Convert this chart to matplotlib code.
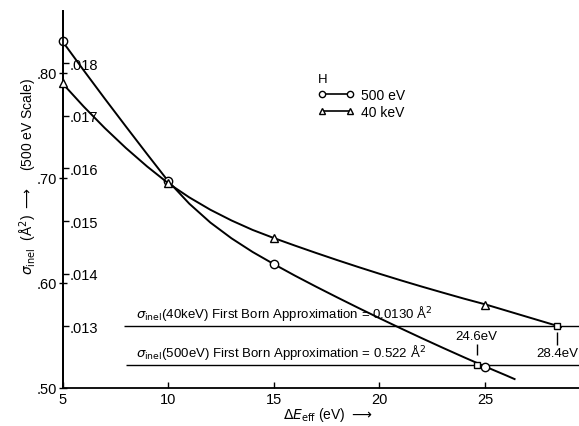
import matplotlib
matplotlib.use('Agg')
import matplotlib.pyplot as plt
from matplotlib.lines import Line2D

plt.rcParams['font.family'] = ['Liberation Sans', 'DejaVu Sans']
plt.rcParams['font.size'] = 10

# 500 eV curve (left scale, A^2)
e500_pts = [5, 10, 15, 25]
s500_pts = [0.830, 0.697, 0.618, 0.520]
e500_line = [5, 6, 7, 8, 9, 10, 11, 12, 13, 14, 15, 16, 17, 18, 19, 20,
             21, 22, 23, 24, 25, 26, 26.4]
s500_line = [0.830, 0.8025, 0.7755, 0.749, 0.7228, 0.697, 0.6755, 0.6575,
             0.6425, 0.6295, 0.618, 0.607, 0.5965, 0.5863, 0.5763, 0.5665,
             0.5569, 0.5475, 0.5383, 0.5293, 0.5205, 0.512, 0.5085]

# 40 keV curve (inner scale, A^2)
e40_pts = [5, 10, 15, 25]
s40_pts = [0.01762, 0.01572, 0.01468, 0.01341]
e40_line = [5, 6, 7, 8, 9, 10, 11, 12, 13, 14, 15, 16, 17, 18, 19, 20, 21,
            22, 23, 24, 25, 26, 27, 28, 28.4, 28.6]
s40_line = [0.01762, 0.01718, 0.01677, 0.01639, 0.01604, 0.01572, 0.01545,
            0.015214, 0.01501, 0.01483, 0.014676, 0.014532, 0.014392,
            0.014256, 0.014124, 0.013996, 0.013872, 0.013752, 0.013636,
            0.013522, 0.013414, 0.013294, 0.013174, 0.013054, 0.013006,
            0.012982]

born500 = 0.522
born40 = 0.0130
cross500 = 24.6
cross40 = 28.4

left_ticks = [0.50, 0.60, 0.70, 0.80]
left_labels = ['.50', '.60', '.70', '.80']
inner_ticks = [0.013, 0.014, 0.015, 0.016, 0.017, 0.018]
inner_labels = ['.013', '.014', '.015', '.016', '.017', '.018']
x_ticks = [5, 10, 15, 20, 25]

fig = plt.figure(figsize=(5.79, 4.27), dpi=100)
ax = fig.add_axes([0.108, 0.089, 0.892, 0.883])
ax.set_xlim(5, 29.45)
ax.set_ylim(0.50, 0.859)

ax2 = ax.twinx()
# inner scale: .013 sits at .559 on the outer scale, 0.001 -> 0.05
ax2.set_ylim(0.013 + (0.50 - 0.559) / 50, 0.013 + (0.859 - 0.559) / 50)

for s in ['top', 'right']:
    ax.spines[s].set_visible(False)
for s in ['top', 'left', 'bottom']:
    ax2.spines[s].set_visible(False)
ax2.spines['right'].set_position(('axes', 0.0))
ax.spines['left'].set_linewidth(1.3)
ax.spines['bottom'].set_linewidth(1.3)
ax2.spines['right'].set_linewidth(1.3)

ax.set_xticks(x_ticks)
ax.set_yticks(left_ticks, labels=left_labels)
ax.tick_params(axis='x', direction='in', length=4, width=1, pad=3, labelsize=10.5)
ax.tick_params(axis='y', direction='inout', length=6, width=1, pad=1, labelsize=10.5)
ax2.set_yticks(inner_ticks, labels=inner_labels)
ax2.tick_params(axis='y', direction='out', length=4, width=1, pad=1, labelsize=10.5)

# curves
ax.plot(e500_line, s500_line, color='black', lw=1.4, zorder=3)
ax.plot(e500_pts, s500_pts, ls='none', marker='o', ms=6, mfc='white',
        mec='black', mew=1, zorder=4, clip_on=False)
ax2.plot(e40_line, s40_line, color='black', lw=1.4, zorder=3)
ax2.plot(e40_pts, s40_pts, ls='none', marker='^', ms=6, mfc='white',
         mec='black', mew=1, zorder=4, clip_on=False)

# first Born approximation lines
ax.hlines(born500, 8.0, 29.45, color='black', lw=1.0)
ax2.hlines(born40, 7.9, 29.45, color='black', lw=1.0)
ax.plot([cross500], [born500], ls='none', marker='s', ms=5, mfc='white',
        mec='black', mew=1, zorder=5)
ax2.plot([cross40], [born40], ls='none', marker='s', ms=5, mfc='white',
         mec='black', mew=1, zorder=5)

ax2.annotate(r'$\sigma_{\rm inel}$(40keV) First Born Approximation = 0.0130 Å$^2$',
             xy=(8.5, born40), xytext=(0, 3), textcoords='offset points',
             ha='left', va='bottom', fontsize=9.5)
ax.annotate(r'$\sigma_{\rm inel}$(500eV) First Born Approximation = 0.522 Å$^2$',
            xy=(8.5, born500), xytext=(0, 3), textcoords='offset points',
            ha='left', va='bottom', fontsize=9.5)

# marks for the crossing energies
ax.vlines(cross500, born500 + 0.009, born500 + 0.020, color='black', lw=1)
ax.text(cross500, born500 + 0.022, '24.6eV', ha='center', va='bottom', fontsize=9.5)
ax2.vlines(cross40, born40 - 0.00036, born40 - 0.00012, color='black', lw=1)
ax2.text(cross40, born40 - 0.0004, '28.4eV', ha='center', va='top', fontsize=9.5)

handles = [Line2D([], [], color='black', lw=1.2, marker='o', ms=4.5,
                  mfc='white', mec='black'),
           Line2D([], [], color='black', lw=1.2, marker='^', ms=4.5,
                  mfc='white', mec='black')]
leg = ax.legend(handles, ['500 eV', '40 keV'], title='H', loc='upper left',
                bbox_to_anchor=(0.495, 0.835), frameon=False, numpoints=2,
                handlelength=2.6, handletextpad=0.5, labelspacing=0.2,
                borderpad=0, borderaxespad=0, fontsize=10, title_fontsize=9.5,
                alignment='left')

ax.set_xlabel(r'$\mathit{\Delta E}_{\rm eff}$ (eV) $\longrightarrow$', fontsize=10)
ax.xaxis.set_label_coords(0.514, -0.045)

fig.text(28 / 579, 1 - 176 / 427,
         r'$\sigma_{\rm inel}$  (Å$^2$) $\longrightarrow$    (500 eV Scale)',
         rotation=90, ha='center', va='center', fontsize=10)

fig.savefig('out.png', dpi=100)
